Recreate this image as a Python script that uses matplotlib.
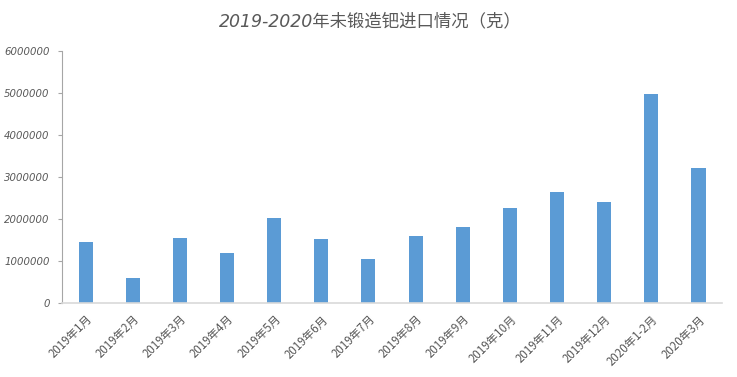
import matplotlib
matplotlib.use("Agg")
import matplotlib.pyplot as plt

plt.rcParams['font.family'] = ['Noto Sans CJK SC', 'DejaVu Sans']

categories = ["2019年1月", "2019年2月", "2019年3月", "2019年4月", "2019年5月", "2019年6月",
              "2019年7月", "2019年8月", "2019年9月", "2019年10月", "2019年11月", "2019年12月",
              "2020年1-2月", "2020年3月"]
values = [1460000, 600000, 1555000, 1200000, 2030000, 1530000, 1055000,
          1600000, 1820000, 2270000, 2650000, 2410000, 4980000, 3220000]
yticks = [0, 1000000, 2000000, 3000000, 4000000, 5000000, 6000000]

fig = plt.figure(figsize=(7.37, 3.77), dpi=100)
ax = fig.add_axes([62/737, 1-303/377, (722-62)/737, (303-51)/377])
x = range(len(categories))
ax.bar(x, values, width=0.3, color='#5B9BD5')
ax.set_xlim(-0.5, len(categories)-0.5)
ax.set_ylim(0, 6000000)
ax.set_yticks(yticks)
ax.set_yticklabels([str(v) for v in yticks], fontsize=7.3, color='#595959',
                   family=['DejaVu Sans'], style='italic')
ax.set_xticks(list(x))
ax.set_xticklabels(categories, rotation=45, ha='right', rotation_mode='anchor',
                   fontsize=8.3, color='#595959')
ax.tick_params(axis='x', length=0, pad=7)
ax.tick_params(axis='y', length=3, color='#A6A6A6', pad=6)
for s in ['top', 'right']:
    ax.spines[s].set_visible(False)
ax.spines['left'].set_color('#A6A6A6')
ax.spines['bottom'].set_color('#D9D9D9')
ax.spines['bottom'].set_linewidth(1.2)

fig.text(370/737, 1-21/377, "2019-2020年未锻造钯进口情况（克）", ha='center', va='center',
         fontsize=12.5, color='#595959', family=['DejaVu Sans', 'Noto Sans CJK SC'], style='italic')

fig.savefig("out.png", dpi=100)
